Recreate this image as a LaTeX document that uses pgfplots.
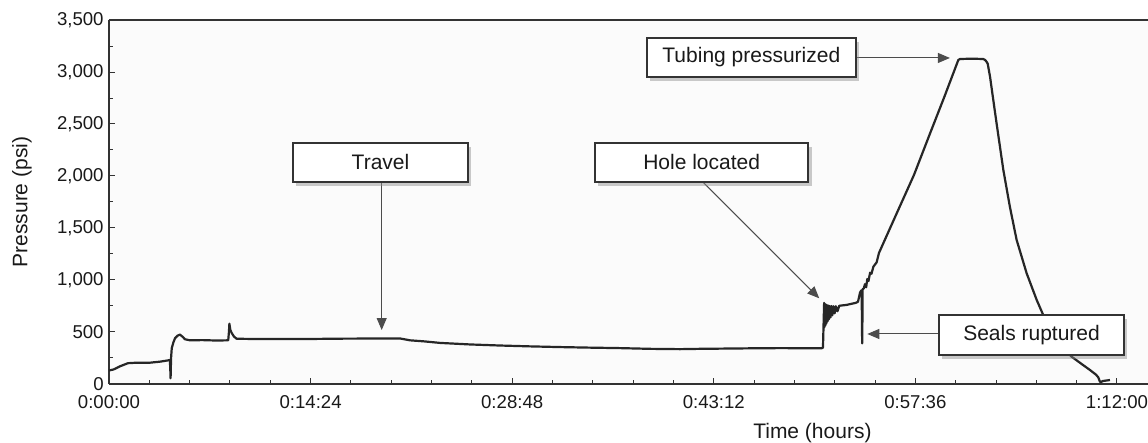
\documentclass[border=0pt]{standalone}
\usepackage{fontspec}
\setmainfont{Liberation Sans}
\usepackage{pgfplots}
\pgfplotsset{compat=1.18}
\usetikzlibrary{arrows.meta,shadows}

\tikzset{
  annot/.style={draw=black!80, line width=1pt, fill=white, inner sep=0pt,
    font=\fontsize{10.5}{12}\selectfont, text=black!90,
    drop shadow={shadow xshift=1.6pt, shadow yshift=-2pt, fill=black!45, opacity=0.45}},
  arr/.style={draw=black!70, line width=0.5pt, -{Triangle[length=6pt,width=5pt]}},
}

\pgfplotstableread{
t p
0 130
20 140
47 170
81 200
120 205
176 205
220 215
247 225
261 230
263 120
264 55
266 250
269 345
276 400
283 440
294 465
304 475
315 455
326 430
347 420
400 422
460 418
511 420
514 500
516 580
520 520
526 490
536 455
547 435
650 432
819 432
1000 436
1247 438
1290 420
1350 410
1419 395
1550 380
1676 370
1800 362
1933 355
2050 350
2190 345
2320 338
2447 335
2530 338
2619 340
2750 343
2876 345
2980 344
3054 343
3060 350
3064 700
3065 780
3066 545
3068 770
3070 560
3072 765
3074 580
3076 760
3079 600
3082 755
3085 620
3088 750
3092 640
3096 750
3100 660
3105 748
3110 680
3115 748
3122 700
3130 752
3140 755
3160 760
3180 770
3200 780
3210 790
3219 880
3224 900
3226 880
3227 600
3228 390
3229 600
3230 910
3235 920
3240 960
3245 930
3250 1010
3255 990
3262 1070
3268 1060
3276 1128
3290 1170
3300 1260
3376 1641
3450 2010
3519 2410
3580 2760
3640 3115
3647 3125
3700 3128
3747 3125
3755 3115
3761 3099
3766 3080
3776 2955
3790 2730
3804 2507
3833 2058
3861 1705
3890 1385
3933 1064
3976 808
4004 663
4060 420
4126 262
4170 190
4204 135
4230 90
4240 64
4247 22
4252 18
4258 28
4270 32
4290 38
}\pressure

\begin{document}
\begin{tikzpicture}
\begin{axis}[
  at={(0,0)}, anchor=south west,
  scale only axis, width=519.5pt, height=182pt,
  xmin=0, xmax=4453, ymin=0, ymax=3500,
  axis x line*=box, axis y line*=left,
  axis line style={draw=black!80, line width=0.8pt, -},
  axis background/.style={fill=black!1.5},
  xtick={0,864,1728,2592,3456,4320},
  xticklabels={0:00:00,0:14:24,0:28:48,0:43:12,0:57:36,1:12:00},
  minor x tick num=4,
  ytick={0,500,...,3500},
  minor y tick num=1,
  xtick pos=left, ytick pos=left,
  tick align=inside,
  major tick length=3pt, minor tick length=1.8pt,
  tick style={draw=black!80, line width=0.5pt},
  /pgf/number format/assume math mode=true,
  /pgf/number format/1000 sep={,},
  tick label style={font=\fontsize{9.3}{11}\selectfont, text=black!90},
  yticklabel style={anchor=east, inner sep=0pt, xshift=-2.5pt},
  xticklabel style={anchor=north, inner sep=0pt, yshift=-5.8pt},
  xlabel={Time (hours)},
  ylabel={Pressure (psi)},
  label style={font=\fontsize{10.5}{12}\selectfont, text=black!90},
  xlabel style={at={(axis description cs:0.677,-0.1346)}, anchor=center},
  ylabel style={at={(axis description cs:-0.0837,0.5)}, anchor=center},
]
\addplot[black!85, line width=1.1pt, line join=round] table[x=t, y=p] {\pressure};

\draw[arr] (axis cs:1168.7,1942) -- (axis cs:1168.7,519);
\draw[arr] (axis cs:2547,1939) -- (axis cs:3044,824);
\draw[arr] (axis cs:3201,3135) -- (axis cs:3604,3135);
\draw[arr] (axis cs:3558,481) -- (axis cs:3250,481);

\node[annot, minimum width=87.5pt, minimum height=19.5pt] at (axis cs:1163.6,2130) {Travel};
\node[annot, minimum width=106.7pt, minimum height=19.8pt] at (axis cs:2540,2130) {Hole located};
\node[annot, minimum width=104.7pt, minimum height=19.2pt] at (axis cs:2753,3139) {Tubing pressurized};
\node[annot, minimum width=92.5pt, minimum height=20pt] at (axis cs:3954,471) {Seals ruptured};
\end{axis}
\pgfresetboundingbox
\useasboundingbox (-54.5pt,-29.5pt) rectangle (519.5pt,192pt);
\end{tikzpicture}
\end{document}
